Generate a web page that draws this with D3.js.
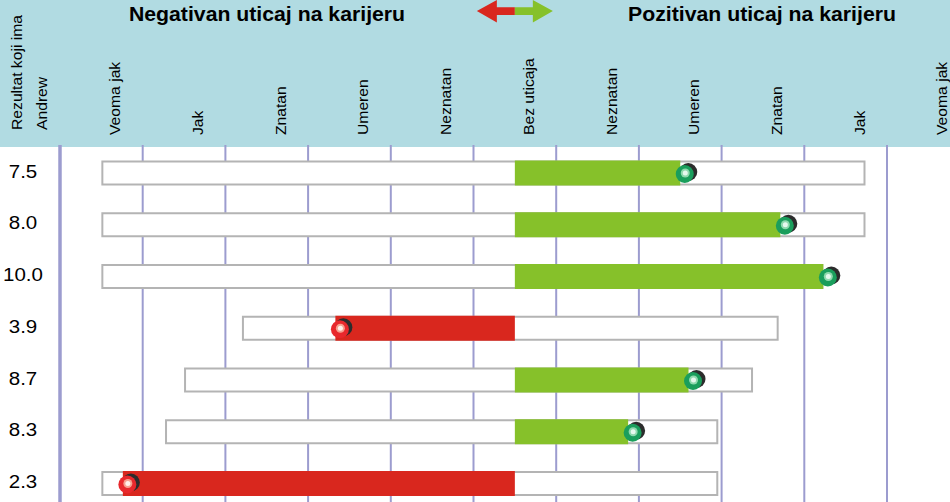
<!DOCTYPE html>
<html>
<head>
<meta charset="utf-8">
<script src="https://cdn.jsdelivr.net/npm/d3@7"></script>
<style>
  body { margin: 0; background: #fff; }
  text { font-family: "Liberation Sans", Arial, sans-serif; fill: #000; }
</style>
</head>
<body>
<script>
// rows: score shown on the left
var rowLabels = ["7.5", "8.0", "10.0", "3.9", "8.7", "8.3", "2.3"];
// white range box per row (scale units, -5 .. 5)
var lowValues = [-5.0, -5.0, -5.0, -3.30, -4.0, -4.23, -5.0];
var highValues = [4.24, 4.24, 3.73, 3.19, 2.88, 2.46, 2.46];
// impact value per row (bar from 0 to here)
var impactValues = [2.0, 3.21, 3.73, -2.17, 2.10, 1.37, -4.74];
// column labels along the top
var categories = ["Veoma jak", "Jak", "Znatan", "Umeren", "Neznatan", "Bez uticaja",
                  "Neznatan", "Umeren", "Znatan", "Jak", "Veoma jak"];
var categoryValues = [-5, -4, -3, -2, -1, 0, 1, 2, 3, 4, 5];

var w = 950, h = 502;
var headerH = 147;
var green = "#86c12a", red = "#d9271e";

var svg = d3.select("body").append("svg")
            .attr("width", w)
            .attr("height", h);

var x = d3.scaleLinear()
          .domain([-5.5, 5.5])
          .range([60, 969.7]);

var y = d3.scalePoint()
          .domain(d3.range(rowLabels.length))
          .range([173, 483.5]);

var barH = 23;

// header band
svg.append("rect")
   .attr("x", 0).attr("y", 0)
   .attr("width", w).attr("height", headerH)
   .attr("fill", "#b1dbe2");

// grid lines between the columns
var gridVals = d3.range(-5.5, 5, 1);
svg.selectAll(".grid")
   .data(gridVals)
   .enter()
   .append("line")
   .attr("class", "grid")
   .attr("x1", function(d) { return x(d); })
   .attr("x2", function(d) { return x(d); })
   .attr("y1", headerH - 2)
   .attr("y2", h)
   .attr("stroke", "#9c9ccf")
   .attr("stroke-width", function(d, i) { return i === 0 ? 3.5 : 2; });

// titles
svg.append("text")
   .attr("transform", "translate(267,21) scale(1.09,1)")
   .attr("text-anchor", "middle")
   .style("font-size", "19.5px")
   .style("font-weight", "bold")
   .text("Negativan uticaj na karijeru");

svg.append("text")
   .attr("transform", "translate(762,21) scale(1.09,1)")
   .attr("text-anchor", "middle")
   .style("font-size", "19.5px")
   .style("font-weight", "bold")
   .text("Pozitivan uticaj na karijeru");

// double arrow between the titles
var ax = x(0);
svg.append("path")
   .attr("d", "M" + (ax - 38) + ",11 L" + (ax - 18) + ",0 L" + (ax - 18) + ",7.3 L" + ax + ",7.3 L" + ax +
              ",15 L" + (ax - 18) + ",15 L" + (ax - 18) + ",22.5 Z")
   .attr("fill", red);
svg.append("path")
   .attr("d", "M" + (ax + 38) + ",11 L" + (ax + 18) + ",0 L" + (ax + 18) + ",7.3 L" + ax + ",7.3 L" + ax +
              ",15 L" + (ax + 18) + ",15 L" + (ax + 18) + ",22.5 Z")
   .attr("fill", green);

// left header label
svg.append("text")
   .attr("transform", "translate(22,130) rotate(-90) scale(1.12,1)")
   .style("font-size", "14px")
   .text("Rezultat koji ima");
svg.append("text")
   .attr("transform", "translate(46.5,130) rotate(-90) scale(1.12,1)")
   .style("font-size", "14px")
   .text("Andrew");

// column labels
svg.selectAll(".cat")
   .data(categories)
   .enter()
   .append("text")
   .attr("class", "cat")
   .attr("transform", function(d, i) {
      return "translate(" + (x(categoryValues[i]) + 19) + ",135) rotate(-90) scale(1.12,1)";
   })
   .style("font-size", "14px")
   .text(function(d) { return d; });

// row labels
svg.selectAll(".rowlab")
   .data(rowLabels)
   .enter()
   .append("text")
   .attr("class", "rowlab")
   .attr("transform", function(d, i) {
      return "translate(23," + (y(i) + 4.5) + ") scale(1.08,1)";
   })
   .attr("text-anchor", "middle")
   .style("font-size", "19px")
   .text(function(d) { return d; });

var rows = svg.selectAll(".row")
              .data(rowLabels)
              .enter()
              .append("g")
              .attr("class", "row");

// white range boxes
rows.append("rect")
    .attr("x", function(d, i) { return x(lowValues[i]) + 1; })
    .attr("y", function(d, i) { return y(i) - barH / 2; })
    .attr("width", function(d, i) { return x(highValues[i]) - x(lowValues[i]) - 2; })
    .attr("height", barH)
    .attr("fill", "#fff")
    .attr("stroke", "#b4b4b4")
    .attr("stroke-width", 2);

// impact bars
rows.append("rect")
    .attr("x", function(d, i) { return Math.min(x(0), x(impactValues[i])); })
    .attr("y", function(d, i) { return y(i) - barH / 2 - 1; })
    .attr("width", function(d, i) { return Math.abs(x(impactValues[i]) - x(0)); })
    .attr("height", barH + 2)
    .attr("fill", function(d, i) { return impactValues[i] < 0 ? red : green; });

// markers: dark shadow, coloured ball, light highlight
rows.append("circle")
    .attr("cx", function(d, i) { return x(impactValues[i]) + 8; })
    .attr("cy", function(d, i) { return y(i) - 1; })
    .attr("r", 9)
    .attr("fill", "#2c2c2c");
rows.append("circle")
    .attr("cx", function(d, i) { return x(impactValues[i]) + 4.5; })
    .attr("cy", function(d, i) { return y(i) + 1; })
    .attr("r", 9)
    .attr("fill", function(d, i) { return impactValues[i] < 0 ? "#e8282c" : "#1a9e5c"; });
rows.append("circle")
    .attr("cx", function(d, i) { return x(impactValues[i]) + 5; })
    .attr("cy", function(d, i) { return y(i); })
    .attr("r", 4.5)
    .attr("fill", function(d, i) { return impactValues[i] < 0 ? "#f7a08f" : "#8fd9ae"; });
rows.append("circle")
    .attr("cx", function(d, i) { return x(impactValues[i]) + 5; })
    .attr("cy", function(d, i) { return y(i); })
    .attr("r", 2.5)
    .attr("fill", function(d, i) { return impactValues[i] < 0 ? "#fff0ea" : "#e6f8ee"; });
</script>
</body>
</html>
